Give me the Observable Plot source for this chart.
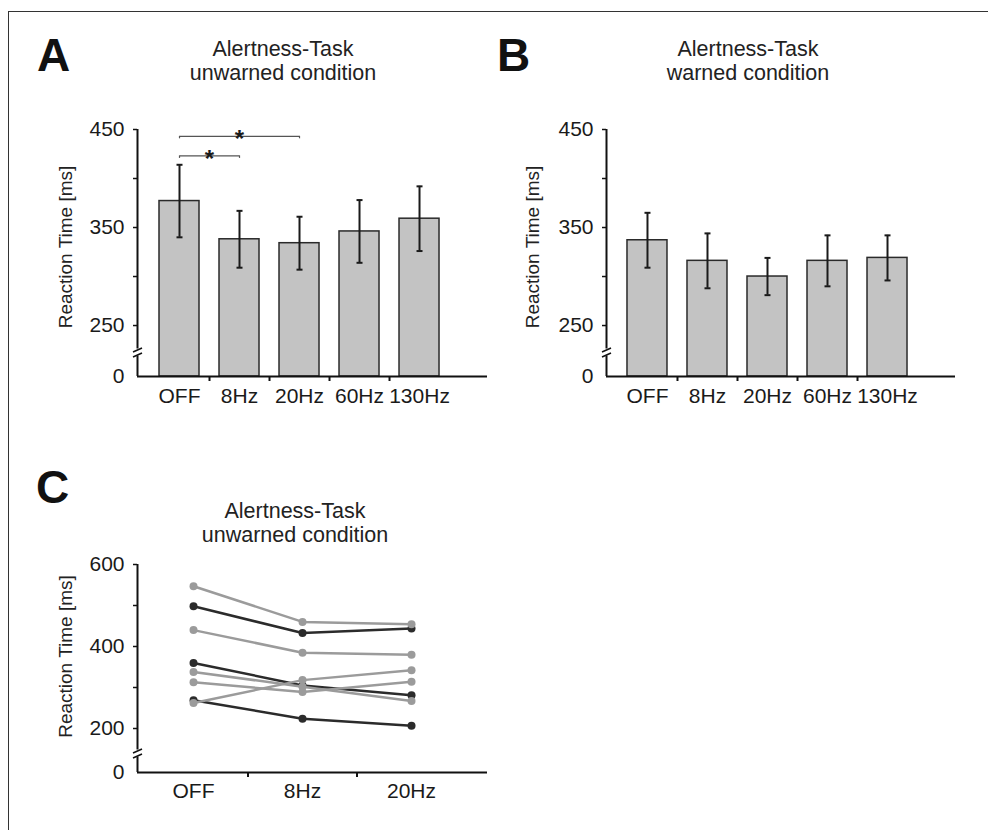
<!DOCTYPE html>
<html>
<head>
<meta charset="utf-8">
<script src="https://cdn.jsdelivr.net/npm/d3@7"></script>
<script src="https://cdn.jsdelivr.net/npm/@observablehq/plot@0.6"></script>
<style>
  body { margin: 0; background: #fff; font-family: "Liberation Sans", Arial, sans-serif; }
  #page { position: relative; width: 988px; height: 830px; overflow: hidden; background: #fff; }
  #frame { position: absolute; left: 8px; top: 11px; right: -4px; bottom: -4px;
           border-top: 1.5px solid #333; border-left: 1.5px solid #333; }
  .panel { position: absolute; }
  .letter { position: absolute; font-weight: bold; font-size: 46px; line-height: 46px; color: #111; }
  .title { position: absolute; width: 320px; margin-left: -160px; text-align: center;
           font-size: 21.5px; line-height: 24px; color: #222; white-space: nowrap; }
</style>
</head>
<body>
<div id="page">
  <div id="frame"></div>
  <div class="letter" style="left:37px;top:32px;">A</div>
  <div class="letter" style="left:497px;top:32px;">B</div>
  <div class="letter" style="left:36px;top:464px;">C</div>
  <div class="title" style="left:283px;top:36.5px;">Alertness-Task<br>unwarned condition</div>
  <div class="title" style="left:748px;top:36.5px;">Alertness-Task<br>warned condition</div>
  <div class="title" style="left:295px;top:498.5px;">Alertness-Task<br>unwarned condition</div>
  <div class="panel" id="pA" style="left:0px;top:0px;"></div>
  <div class="panel" id="pB" style="left:494px;top:0px;"></div>
  <div class="panel" id="pC" style="left:0px;top:420px;"></div>
</div>
<script>
// ---------- data ----------
const categories = ["OFF", "8Hz", "20Hz", "60Hz", "130Hz"];
const unwarnedMean = [377, 338, 334, 346, 359];
const unwarnedErr  = [37, 29, 27, 32, 33];
const warnedMean   = [337, 316, 300, 316, 319];
const warnedErr    = [28, 28, 19, 26, 23];
const barTicks = [250, 300, 350, 400, 450];
const barTickLabels = ["250", "", "350", "", "450"];
const barAxisBase = 198;      // value drawn at the broken-axis "0"
const zeroLabel = "0";

const sigFrom = [0, 0];
const sigTo = [1, 2];
const sigLevel = [423, 443];
const sigMark = "*";

const conditionsC = ["OFF", "8Hz", "20Hz"];
const subjectShade = ["light", "dark", "light", "dark", "light", "light", "light", "dark"];
const rtOFF  = [547, 498, 440, 360, 338, 313, 262, 269];
const rt8Hz  = [460, 433, 385, 305, 302, 289, 318, 224];
const rt20Hz = [454, 444, 380, 281, 267, 314, 342, 207];
const lineTicks = [200, 300, 400, 500, 600];
const lineTickLabels = ["200", "", "400", "", "600"];
const lineAxisBase = 92.7;
const yLabel = "Reaction Time [ms]";

// ---------- styles ----------
const FONT = "Liberation Sans, Arial, sans-serif";
const INK = "#1a1a1a";
const baseStyle = { fontFamily: FONT, fontSize: "21px", color: INK, background: "transparent", overflow: "visible" };

function axisBreak(x0, kx, base, ky, centerPx, top) {
  const c = base + centerPx / ky;
  const gap = 3.5 / ky, sl = 2 / ky, hw = 4.5 / kx;
  const strokes = [c - 2.5 / ky, c + 2.5 / ky];
  return [
    Plot.ruleX([[c + gap, top], [base, c - gap]], {x: () => x0, y1: d => d[0], y2: d => d[1], stroke: "#111", strokeWidth: 2}),
    Plot.link(strokes, {x1: () => x0 - hw, x2: () => x0 + hw, y1: d => d - sl, y2: d => d + sl, stroke: "#111", strokeWidth: 1.5})
  ];
}

function barPanel(means, errs, o) {
  const W = 494, H = 420, mt = 129, mb = 44;
  const base = barAxisBase, top = 450;
  const data = categories.map((c, i) => ({i, cat: c, mean: means[i], lo: means[i] - errs[i], hi: means[i] + errs[i]}));
  const caps = data.flatMap(d => [{i: d.i, v: d.lo}, {i: d.i, v: d.hi}]);
  const ky = (H - mt - mb) / (top - base);
  const kx = (W - o.marginLeft - o.marginRight) / (o.xDomain[1] - o.xDomain[0]);
  const marks = [
    Plot.rect(data, {x1: d => d.i - 1/3, x2: d => d.i + 1/3, y1: () => base, y2: "mean",
                     fill: "#c3c3c3", stroke: "#2a2a2a", strokeWidth: 1.5}),
    Plot.ruleX(data, {x: "i", y1: "lo", y2: "hi", stroke: INK, strokeWidth: 2}),
    Plot.link(caps, {x1: d => d.i - 0.05, x2: d => d.i + 0.05, y1: "v", y2: "v", stroke: INK, strokeWidth: 2}),
    Plot.ruleY([base], {stroke: "#111", strokeWidth: 2}),
    ...axisBreak(o.xDomain[0], kx, base, ky, 24, top),
    Plot.axisY({ticks: barTicks, tickFormat: d => barTickLabels[barTicks.indexOf(d)], tickSize: 4, tickPadding: 9,
                fontSize: 21, label: null, stroke: "#111", strokeWidth: 1.5}),
    Plot.axisY({ticks: [base], tickFormat: () => zeroLabel, tickSize: 0, tickPadding: 13, fontSize: 21, label: null}),
    Plot.axisX({ticks: d3.range(categories.length), tickFormat: i => categories[i], tickSize: 0, tickPadding: 12,
                fontSize: 21, label: null}),
    Plot.axisX({ticks: d3.range(categories.length - 1).map(i => i + 0.5), tickFormat: () => "", tickSize: 5,
                label: null, stroke: "#111", strokeWidth: 2}),
    Plot.text([yLabel], {frameAnchor: "left", textAnchor: "middle", rotate: -90, dx: o.labelDx, dy: -6, fontSize: 19, fill: "#222"})
  ];
  if (o.sig) {
    const sig = sigFrom.map((a, k) => ({a, b: sigTo[k], level: sigLevel[k]}));
    const ends = sig.flatMap(s => [{x: s.a, l: s.level}, {x: s.b, l: s.level}]);
    marks.push(
      Plot.link(sig, {x1: "a", x2: "b", y1: "level", y2: "level", stroke: "#555", strokeWidth: 1.2}),
      Plot.ruleX(ends, {x: "x", y1: "l", y2: d => d.l - 2.5, stroke: "#555", strokeWidth: 1.2}),
      Plot.text(sig, {x: d => (d.a + d.b) / 2, y: "level", text: () => sigMark, fontSize: 24, fontWeight: "bold", dy: 3, fill: INK})
    );
  }
  return Plot.plot({
    width: W, height: H, marginLeft: o.marginLeft, marginRight: o.marginRight, marginTop: mt, marginBottom: mb,
    x: {domain: o.xDomain}, y: {domain: [base, top]},
    style: baseStyle, marks
  });
}

document.getElementById("pA").append(barPanel(unwarnedMean, unwarnedErr,
  {marginLeft: 137, marginRight: 7, xDomain: [-0.7, 5.133], labelDx: -72, sig: true}));
document.getElementById("pB").append(barPanel(warnedMean, warnedErr,
  {marginLeft: 112, marginRight: 33, xDomain: [-0.683, 5.133], labelDx: -74, sig: false}));

// ---------- panel C ----------
(function () {
  const W = 494, H = 410, mt = 144, mb = 58, ml = 137, mr = 7;
  const base = lineAxisBase, top = 600;
  const xDomain = [-0.514, 2.697];
  const ky = (H - mt - mb) / (top - base);
  const kx = (W - ml - mr) / (xDomain[1] - xDomain[0]);
  const series = [rtOFF, rt8Hz, rt20Hz];
  const long = subjectShade.flatMap((s, k) => conditionsC.map((c, j) => ({subject: k, shade: s, j, rt: series[j][k]})));
  const dark = long.filter(d => d.shade === "dark");
  const light = long.filter(d => d.shade === "light");
  const cDark = "#2b2b2b", cLight = "#9b9b9b";
  const svg = Plot.plot({
    width: W, height: H, marginLeft: ml, marginRight: mr, marginTop: mt, marginBottom: mb,
    x: {domain: xDomain}, y: {domain: [base, top]},
    style: baseStyle,
    marks: [
      Plot.ruleY([base], {stroke: "#111", strokeWidth: 2}),
      ...axisBreak(xDomain[0], kx, base, ky, 19, top),
      Plot.line(dark, {x: "j", y: "rt", z: "subject", stroke: cDark, strokeWidth: 2.5}),
      Plot.dot(dark, {x: "j", y: "rt", r: 4, fill: cDark}),
      Plot.line(light, {x: "j", y: "rt", z: "subject", stroke: cLight, strokeWidth: 2.5}),
      Plot.dot(light, {x: "j", y: "rt", r: 4, fill: cLight}),
      Plot.axisY({ticks: lineTicks, tickFormat: d => lineTickLabels[lineTicks.indexOf(d)], tickSize: 4, tickPadding: 9,
                  fontSize: 21, label: null, stroke: "#111", strokeWidth: 1.5}),
      Plot.axisY({ticks: [base], tickFormat: () => zeroLabel, tickSize: 0, tickPadding: 13, fontSize: 21, label: null}),
      Plot.axisX({ticks: d3.range(conditionsC.length), tickFormat: i => conditionsC[i], tickSize: 0, tickPadding: 11,
                  fontSize: 21, label: null}),
      Plot.axisX({ticks: d3.range(conditionsC.length - 1).map(i => i + 0.5), tickFormat: () => "", tickSize: 5,
                  label: null, stroke: "#111", strokeWidth: 2}),
      Plot.text([yLabel], {frameAnchor: "left", textAnchor: "middle", rotate: -90, dx: -72, dy: -12, fontSize: 19, fill: "#222"})
    ]
  });
  document.getElementById("pC").append(svg);
})();
</script>
</body>
</html>
